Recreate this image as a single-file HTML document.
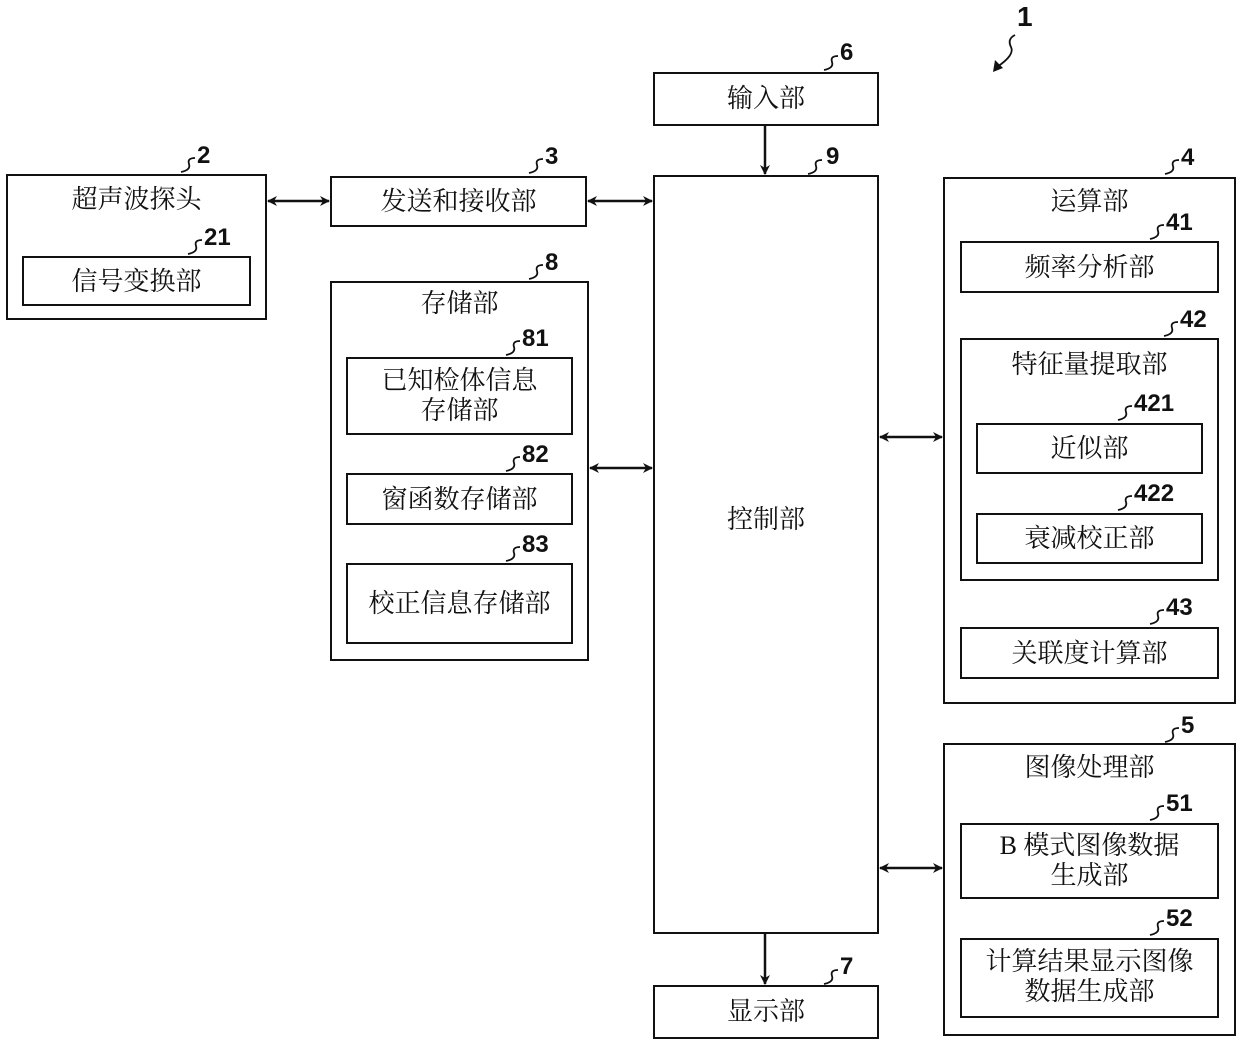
<!DOCTYPE html>
<html><head><meta charset="utf-8"><style>
body{margin:0;background:#fff;}
#c{position:relative;width:1240px;height:1045px;overflow:hidden;background:#fff;}
.b{position:absolute;border:2.5px solid #111;box-sizing:border-box;}
.t{position:absolute;font-family:"Liberation Serif","Noto Serif CJK SC",serif;font-size:26px;color:#111;text-align:center;line-height:30px;white-space:nowrap;}
.n{position:absolute;font-family:"Liberation Sans","DejaVu Sans",sans-serif;font-weight:bold;font-size:24px;color:#111;line-height:24px;}
svg{position:absolute;left:0;top:0;}
</style></head><body><div id="c">
<div class="b" style="left:653px;top:72px;width:226px;height:54px"></div>
<div class="t" style="left:653px;top:84px;width:226px">输入部</div>
<div class="b" style="left:653px;top:175px;width:226px;height:759px"></div>
<div class="t" style="left:653px;top:505px;width:226px">控制部</div>
<div class="b" style="left:653px;top:985px;width:226px;height:54px"></div>
<div class="t" style="left:653px;top:997px;width:226px">显示部</div>

<div class="b" style="left:6px;top:174px;width:261px;height:146px"></div>
<div class="t" style="left:6px;top:185px;width:261px">超声波探头</div>
<div class="b" style="left:22px;top:256px;width:229px;height:50px"></div>
<div class="t" style="left:22px;top:267px;width:229px">信号变换部</div>

<div class="b" style="left:330px;top:176px;width:257px;height:51px"></div>
<div class="t" style="left:330px;top:187px;width:257px">发送和接收部</div>

<div class="b" style="left:330px;top:281px;width:259px;height:380px"></div>
<div class="t" style="left:330px;top:289px;width:259px">存储部</div>
<div class="b" style="left:346px;top:357px;width:227px;height:78px"></div>
<div class="t" style="left:346px;top:366px;width:227px">已知检体信息<br>存储部</div>
<div class="b" style="left:346px;top:473px;width:227px;height:52px"></div>
<div class="t" style="left:346px;top:485px;width:227px">窗函数存储部</div>
<div class="b" style="left:346px;top:563px;width:227px;height:81px"></div>
<div class="t" style="left:346px;top:589px;width:227px">校正信息存储部</div>

<div class="b" style="left:943px;top:177px;width:293px;height:527px"></div>
<div class="t" style="left:943px;top:187px;width:293px">运算部</div>
<div class="b" style="left:960px;top:241px;width:259px;height:52px"></div>
<div class="t" style="left:960px;top:253px;width:259px">频率分析部</div>
<div class="b" style="left:960px;top:338px;width:259px;height:243px"></div>
<div class="t" style="left:960px;top:350px;width:259px">特征量提取部</div>
<div class="b" style="left:976px;top:423px;width:227px;height:51px"></div>
<div class="t" style="left:976px;top:434px;width:227px">近似部</div>
<div class="b" style="left:976px;top:513px;width:227px;height:51px"></div>
<div class="t" style="left:976px;top:524px;width:227px">衰减校正部</div>
<div class="b" style="left:960px;top:627px;width:259px;height:52px"></div>
<div class="t" style="left:960px;top:639px;width:259px">关联度计算部</div>

<div class="b" style="left:943px;top:743px;width:293px;height:293px"></div>
<div class="t" style="left:943px;top:753px;width:293px">图像处理部</div>
<div class="b" style="left:960px;top:823px;width:259px;height:76px"></div>
<div class="t" style="left:960px;top:831px;width:259px">B 模式图像数据<br>生成部</div>
<div class="b" style="left:960px;top:938px;width:259px;height:80px"></div>
<div class="t" style="left:960px;top:947px;width:259px">计算结果显示图像<br>数据生成部</div>

<div class="n" style="left:840px;top:41px">6</div>
<div class="n" style="left:826px;top:145px">9</div>
<div class="n" style="left:840px;top:955px">7</div>
<div class="n" style="left:197px;top:144px">2</div>
<div class="n" style="left:204px;top:226px">21</div>
<div class="n" style="left:545px;top:145px">3</div>
<div class="n" style="left:545px;top:251px">8</div>
<div class="n" style="left:522px;top:327px">81</div>
<div class="n" style="left:522px;top:443px">82</div>
<div class="n" style="left:522px;top:533px">83</div>
<div class="n" style="left:1181px;top:146px">4</div>
<div class="n" style="left:1166px;top:211px">41</div>
<div class="n" style="left:1180px;top:308px">42</div>
<div class="n" style="left:1134px;top:392px">421</div>
<div class="n" style="left:1134px;top:482px">422</div>
<div class="n" style="left:1166px;top:596px">43</div>
<div class="n" style="left:1181px;top:714px">5</div>
<div class="n" style="left:1166px;top:792px">51</div>
<div class="n" style="left:1166px;top:907px">52</div>
<div class="n" style="left:1017px;top:5px;font-size:28px">1</div>

<svg width="1240" height="1045" viewBox="0 0 1240 1045">
<defs><marker id="a" markerWidth="10" markerHeight="10" refX="9" refY="5" orient="auto-start-reverse" markerUnits="userSpaceOnUse"><path d="M0,0 L10,5 L0,10 L3,5 Z" fill="#111"/></marker></defs>
<g stroke="#111" stroke-width="2.5" fill="none">
<line x1="765" y1="126" x2="765" y2="174" marker-end="url(#a)"/>
<line x1="765" y1="934" x2="765" y2="984" marker-end="url(#a)"/>
<line x1="268" y1="201" x2="329" y2="201" marker-start="url(#a)" marker-end="url(#a)"/>
<line x1="588" y1="201" x2="652" y2="201" marker-start="url(#a)" marker-end="url(#a)"/>
<line x1="590" y1="468" x2="652" y2="468" marker-start="url(#a)" marker-end="url(#a)"/>
<line x1="880" y1="437" x2="942" y2="437" marker-start="url(#a)" marker-end="url(#a)"/>
<line x1="880" y1="868" x2="942" y2="868" marker-start="url(#a)" marker-end="url(#a)"/>
</g>
<g stroke="#111" stroke-width="1.8" fill="none">
<path d="M838,56 q-8,0 -6,6 q2,6 -8,8"/>
<path d="M822,160 q-8,0 -6,6 q2,6 -8,8"/>
<path d="M838,970 q-8,0 -6,6 q2,6 -8,8"/>
<path d="M195,158 q-8,0 -6,6 q2,6 -8,8"/>
<path d="M202,240 q-8,0 -6,6 q2,6 -8,8"/>
<path d="M543,159 q-8,0 -6,6 q2,6 -8,8"/>
<path d="M543,265 q-8,0 -6,6 q2,6 -8,8"/>
<path d="M520,341 q-8,0 -6,6 q2,6 -8,8"/>
<path d="M520,457 q-8,0 -6,6 q2,6 -8,8"/>
<path d="M520,547 q-8,0 -6,6 q2,6 -8,8"/>
<path d="M1179,160 q-8,0 -6,6 q2,6 -8,8"/>
<path d="M1164,225 q-8,0 -6,6 q2,6 -8,8"/>
<path d="M1178,322 q-8,0 -6,6 q2,6 -8,8"/>
<path d="M1132,406 q-8,0 -6,6 q2,6 -8,8"/>
<path d="M1132,496 q-8,0 -6,6 q2,6 -8,8"/>
<path d="M1164,610 q-8,0 -6,6 q2,6 -8,8"/>
<path d="M1179,728 q-8,0 -6,6 q2,6 -8,8"/>
<path d="M1164,806 q-8,0 -6,6 q2,6 -8,8"/>
<path d="M1164,921 q-8,0 -6,6 q2,6 -8,8"/>
<path d="M1015,35 q-8,4 -4,12 q4,8 -14,20"/>
</g>
<path d="M993,72 l2,-12 l8,8 Z" fill="#111"/>
</svg>
</div></body></html>
